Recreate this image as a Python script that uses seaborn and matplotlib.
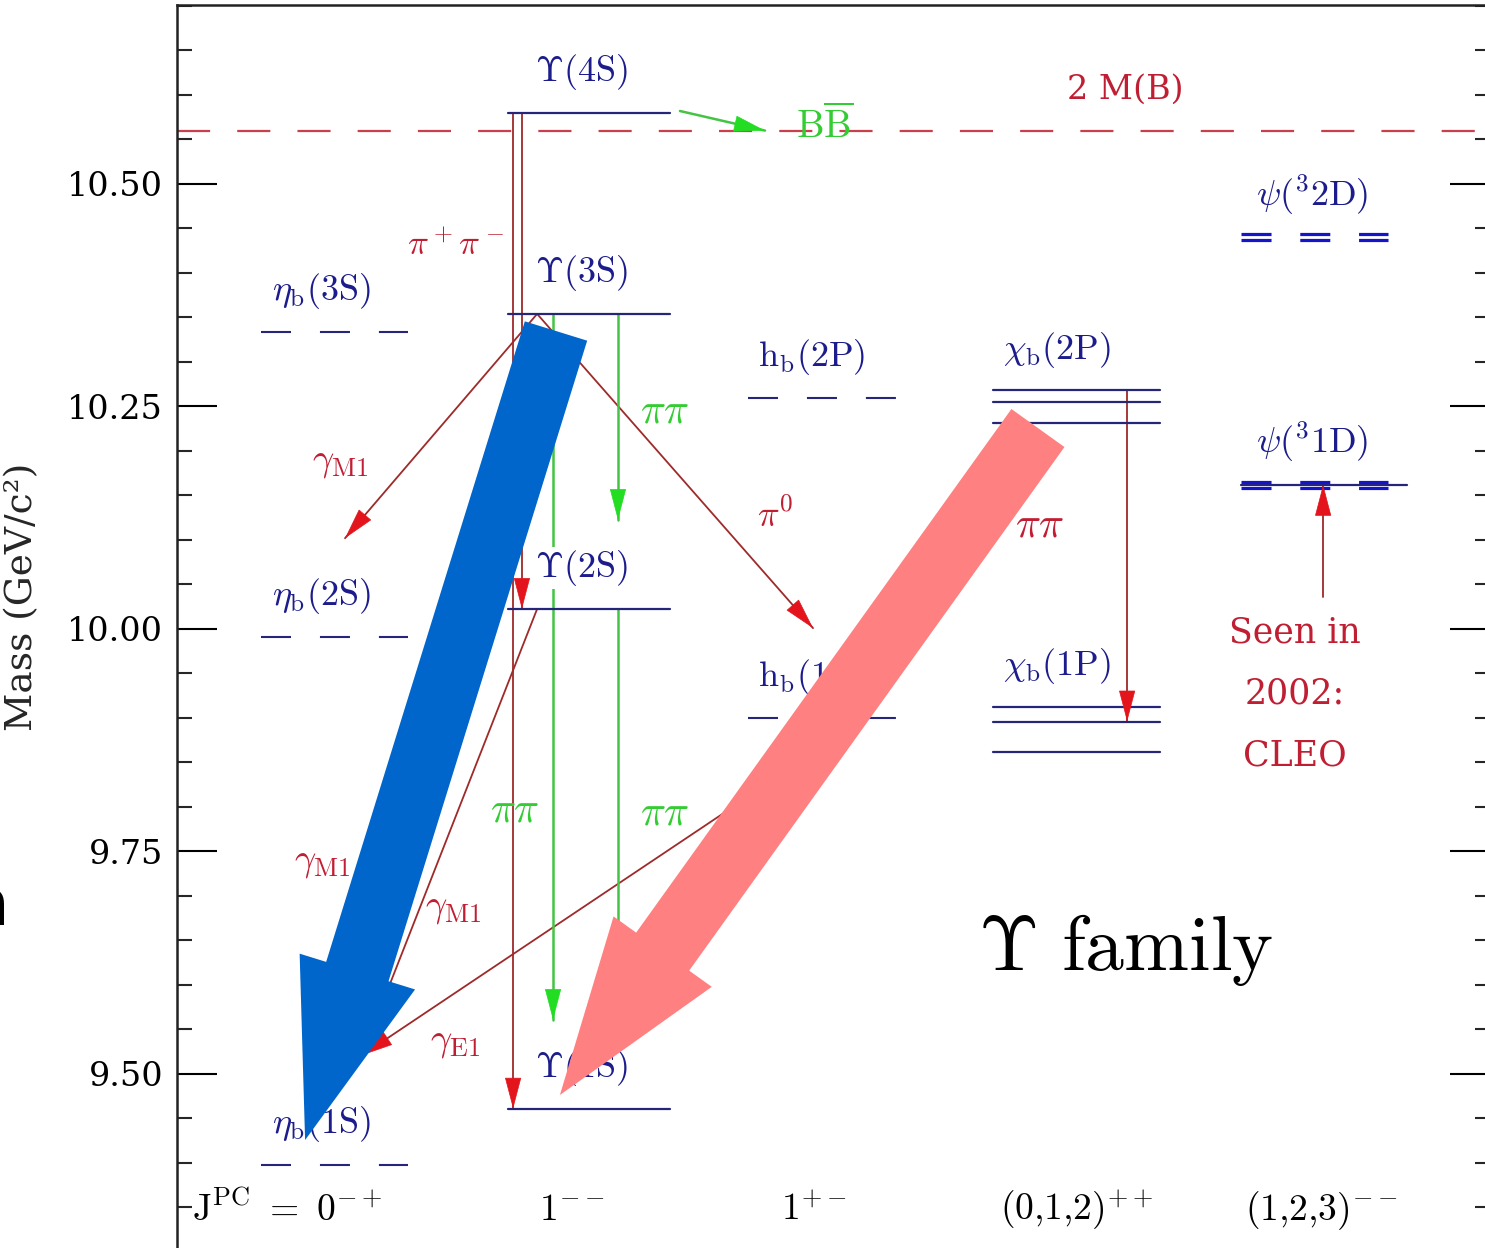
import matplotlib
matplotlib.use("Agg")
import matplotlib.pyplot as plt
from matplotlib.patches import FancyArrowPatch, ArrowStyle
from matplotlib.ticker import FixedLocator, MultipleLocator, FormatStrFormatter
import seaborn as sns
import pandas as pd

# x centre and half width of each J^PC column
col_x = [0.0, 1.04, 2.0, 3.03, 4.0]
col_half = [0.30, 0.33, 0.31, 0.34, 0.30]
jpc_labels = [r'$\mathrm{J^{PC}\ =\ 0^{-+}}$', r'$\mathrm{1^{--}}$', r'$\mathrm{1^{+-}}$',
              r'$\mathrm{(0{,}1{,}2)^{++}}$', r'$\mathrm{(1{,}2{,}3)^{--}}$']
jpc_x = [-0.19, 0.97, 1.96, 3.03, 4.03]
jpc_mass = 9.347

# masses in GeV/c^2
etab_names = [r'$\eta_{\mathrm{b}}\mathrm{(3S)}$', r'$\eta_{\mathrm{b}}\mathrm{(2S)}$',
              r'$\eta_{\mathrm{b}}\mathrm{(1S)}$']
etab_mass = [10.334, 9.991, 9.398]
ups_names = [r'$\Upsilon\mathrm{(4S)}$', r'$\Upsilon\mathrm{(3S)}$', r'$\Upsilon\mathrm{(2S)}$',
             r'$\Upsilon\mathrm{(1S)}$']
ups_mass = [10.580, 10.354, 10.0225, 9.461]
hb_names = [r'$\mathrm{h_b(2P)}$', r'$\mathrm{h_b(1P)}$']
hb_mass = [10.260, 9.900]
chib_names = [r'$\chi_{\mathrm{b}}\mathrm{(2P)}$', r'$\chi_{\mathrm{b}}\mathrm{(1P)}$']
chib2p_mass = [10.268, 10.255, 10.232]
chib1p_mass = [9.912, 9.896, 9.862]
psi_names = [r'$\psi(^{3}\mathrm{2D)}$', r'$\psi(^{3}\mathrm{1D)}$']
psi_mass = [10.440, 10.162]
bb_threshold = 10.559

y_major = [9.50, 9.75, 10.00, 10.25, 10.50]

# transitions: (x0, m0, x1, m1)
red_arrows = [
    (0.767, ups_mass[0], 0.767, ups_mass[2]),
    (0.731, ups_mass[0], 0.731, ups_mass[3]),
    (0.829, ups_mass[1], 0.045, 10.102),
    (0.829, ups_mass[1], 1.955, 10.001),
    (0.829, ups_mass[2], 0.114, 9.521),
    (2.024, 9.873, 0.114, 9.521),
    (3.237, chib2p_mass[0], 3.237, chib1p_mass[1]),
    (4.037, 10.036, 4.037, psi_mass[1]),
]
green_arrows = [
    (1.159, ups_mass[1], 1.159, 10.1225),
    (0.894, ups_mass[1], 0.894, 9.5607),
    (1.159, ups_mass[2], 1.159, 9.5607),
    (1.412, 10.582, 1.759, 10.560),
]

# transition labels: (text, x, mass, colour, size)
red_text = '#c01e32'
green_text = '#33cc33'
trans_labels = [
    (r'$\pi^+\pi^-$', 0.494, 10.4315, red_text, 25),
    (r'$\gamma_{\mathrm{M1}}$', 0.024, 10.1876, red_text, 27),
    (r'$\gamma_{\mathrm{M1}}$', -0.049, 9.7382, red_text, 27),
    (r'$\gamma_{\mathrm{M1}}$', 0.486, 9.6865, red_text, 27),
    (r'$\gamma_{\mathrm{E1}}$', 0.494, 9.536, red_text, 27),
    (r'$\pi^0$', 1.80, 10.128, red_text, 26),
    (r'$\pi\pi$', 2.882, 10.117, red_text, 30),
    (r'$\pi\pi$', 1.351, 10.246, green_text, 30),
    (r'$\pi\pi$', 0.739, 9.797, green_text, 30),
    (r'$\pi\pi$', 1.351, 9.794, green_text, 30),
]

# overlay arrows (tail -> tip)
blue_arrow = ((0.906, 10.3348), (-0.118, 9.4258))
pink_arrow = ((2.873, 10.2258), (0.922, 9.4764))

navy = '#25257a'
label_blue = '#1c1c8c'
dark_red = '#9e2a2a'
head_red = '#e3141c'
green = '#44c444'
head_green = '#22dd22'
psi_blue = '#1414c8'

sns.set_style("white")
plt.rcParams['font.family'] = ['DejaVu Serif', 'DejaVu Sans']
plt.rcParams['mathtext.fontset'] = 'cm'

fig = plt.figure(figsize=(14.85, 12.48), dpi=100)
ax = fig.add_axes([177 / 1485, -25 / 1248, 1313 / 1485, 1268 / 1248])
ax.set_xlim(-0.6408, 4.718)
ax.set_ylim(9.2764, 10.7011)

# solid levels through seaborn
rows = []
lid = 0
for m in ups_mass:
    for xx in (col_x[1] - col_half[1], col_x[1] + col_half[1]):
        rows.append({'level': lid, 'x': xx, 'mass': m})
    lid += 1
for m in chib2p_mass + chib1p_mass:
    for xx in (col_x[3] - col_half[3], col_x[3] + col_half[3]):
        rows.append({'level': lid, 'x': xx, 'mass': m})
    lid += 1
for xx in (col_x[4] - col_half[4], col_x[4] + 0.38):
    rows.append({'level': lid, 'x': xx, 'mass': psi_mass[1]})
solid = pd.DataFrame(rows)
sns.lineplot(data=solid, x='x', y='mass', units='level', estimator=None, sort=False,
             color=navy, lw=1.6, legend=False, ax=ax, zorder=3)

# dashed levels
for m in etab_mass:
    ax.plot([col_x[0] - col_half[0], col_x[0] + col_half[0]], [m, m], color=navy,
            lw=1.5, dashes=(14.4, 13.9), zorder=3)
for m in hb_mass:
    ax.plot([col_x[2] - col_half[2], col_x[2] + col_half[2]], [m, m], color=navy,
            lw=1.5, dashes=(14.4, 13.9), zorder=3)
for m in psi_mass:
    for dm in (0.0035, -0.0032):
        ax.plot([col_x[4] - col_half[4], col_x[4] + col_half[4]], [m + dm, m + dm],
                color=psi_blue, lw=2.3, dashes=(9.4, 9.0), zorder=3)

# 2 M(B) threshold
ax.plot([-0.6408, 4.718], [bb_threshold, bb_threshold], color='#c8404c', lw=1.6,
        dashes=(14.9, 12.2), zorder=2)


def head(x0, m0, x1, m1, color):
    back = (x1 + 0.03 * (x0 - x1), m1 + 0.03 * (m0 - m1))
    ax.add_patch(FancyArrowPatch(back, (x1, m1),
                                 arrowstyle=ArrowStyle('-|>', head_length=21, head_width=5.5),
                                 mutation_scale=1, color=color, lw=0.5,
                                 shrinkA=0, shrinkB=0, zorder=4))


for x0, m0, x1, m1 in red_arrows:
    ax.plot([x0, x1], [m0, m1], color=dark_red, lw=1.3, zorder=2)
    head(x0, m0, x1, m1, head_red)
for x0, m0, x1, m1 in green_arrows:
    ax.plot([x0, x1], [m0, m1], color=green, lw=1.8, zorder=2)
    head(x0, m0, x1, m1, head_green)

# level labels
lab_kw = dict(ha='center', va='center', fontsize=26, color=label_blue, zorder=5,
              bbox=dict(facecolor='white', edgecolor='none', pad=0.5))
for name, m in zip(etab_names, etab_mass):
    ax.text(col_x[0] - 0.05, m + 0.046, name, **lab_kw)
for name, m in zip(ups_names, ups_mass):
    ax.text(col_x[1] - 0.03, m + 0.046, name, **lab_kw)
for name, m in zip(hb_names, hb_mass):
    ax.text(col_x[2] - 0.05, m + 0.046, name, **lab_kw)
for name, m in zip(chib_names, [chib2p_mass[0], chib1p_mass[0]]):
    ax.text(col_x[3] - 0.08, m + 0.046, name, **lab_kw)
for name, m in zip(psi_names, psi_mass):
    ax.text(col_x[4] - 0.01, m + 0.048, name, **lab_kw)

for txt, xx, m, c, fs in trans_labels:
    ax.text(xx, m, txt, ha='center', va='center', fontsize=fs, color=c, zorder=5)

ax.text(2.004, 10.566, r'$\mathrm{B}\overline{\mathrm{B}}$', ha='center', va='center',
        fontsize=28, color=green_text, zorder=5)
ax.text(3.229, 10.606, '2 M(B)', ha='center', va='center', fontsize=24, color=red_text)
for txt, m in zip(['Seen in', '2002:', 'CLEO'], [9.9955, 9.928, 9.858]):
    ax.text(3.922, m, txt, ha='center', va='center', fontsize=25, color=red_text)

ax.text(3.229, 9.639, r'$\Upsilon\ \mathrm{family}$', ha='center', va='center',
        fontsize=56, color='black')

for txt, xx in zip(jpc_labels, jpc_x):
    ax.text(xx, jpc_mass, txt, ha='center', va='center', fontsize=27, color='black')

# overlay arrows
for (tail, tip), c in [(blue_arrow, '#0066cc'), (pink_arrow, '#ff8080')]:
    ax.add_patch(FancyArrowPatch(tail, tip,
                                 arrowstyle=ArrowStyle('simple', head_length=127,
                                                       head_width=87, tail_width=47),
                                 mutation_scale=1, color=c, lw=0,
                                 shrinkA=0, shrinkB=0, zorder=10))

# axes
ax.set_xticks([])
ax.yaxis.set_major_locator(FixedLocator(y_major))
ax.yaxis.set_minor_locator(MultipleLocator(0.05))
ax.yaxis.set_major_formatter(FormatStrFormatter('%.2f'))
ax.tick_params(axis='y', which='major', direction='in', length=29, width=1.5,
               left=True, right=True, labelsize=24, pad=10, colors='black')
ax.tick_params(axis='y', which='minor', direction='in', length=11, width=1.5,
               left=True, right=True)
for s in ['left', 'right', 'top']:
    ax.spines[s].set_visible(True)
    ax.spines[s].set_linewidth(1.8)
    ax.spines[s].set_color('#222222')
ax.spines['bottom'].set_visible(False)
ax.set_xlabel('')
ax.set_ylabel('Mass (GeV/c²)', fontsize=27)
ax.yaxis.set_label_coords(-0.104, 0.533)

# fragment of slide text that the reference shows cut at the left edge
fig.text(9 / 1485, 1 - 907 / 1248, 'n', ha='right', va='center', fontsize=46,
         family='DejaVu Sans', color='black')

fig.savefig('out.png', dpi=100)
